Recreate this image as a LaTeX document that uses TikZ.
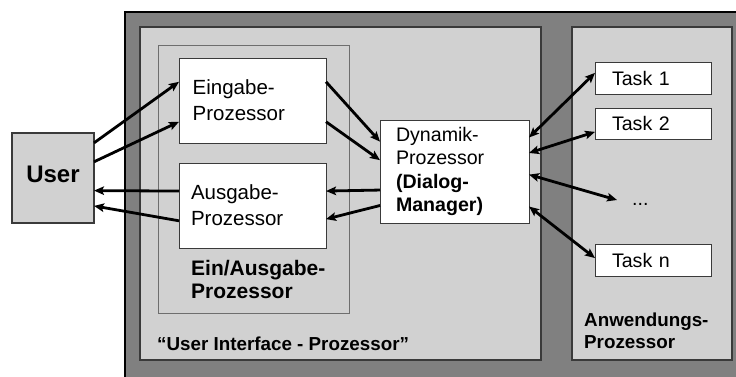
\documentclass[tikz,border=0pt]{standalone}
\usepackage{fontspec}
\setmainfont{Liberation Sans}
\usetikzlibrary{arrows.meta,calc}
\definecolor{outergray}{HTML}{808080}
\definecolor{panelgray}{HTML}{D1D1D1}
\definecolor{edgegray}{HTML}{3A3A3A}
\definecolor{thingray}{HTML}{6E6E6E}
\begin{document}
\begin{tikzpicture}[x=1pt,y=-1pt,
  frame/.style={anchor=north west, inner sep=0pt, outer sep=0pt},
  panel/.style={frame, draw=edgegray, fill=panelgray, line width=1.4pt},
  wbox/.style={anchor=north west, draw=edgegray, fill=white, line width=1pt,
    inner ysep=0pt, outer sep=0pt, align=left},
  plainfont/.style={font=\fontsize{20.5}{26}\selectfont},
  dynfont/.style={font=\fontsize{19.6}{23.3}\selectfont},
  taskfont/.style={font=\fontsize{19.6}{23}\selectfont},
  boldlabel/.style={anchor=base west, inner sep=0pt, align=left},
  flow/.style={line width=2.8pt, -{Stealth[length=10pt,width=8.5pt,inset=2pt]}},
  both/.style={line width=2.8pt, {Stealth[length=10pt,width=8.5pt,inset=2pt]}-{Stealth[length=10pt,width=8.5pt,inset=2pt]}}]

\useasboundingbox (0,0) rectangle (736,376);

% outer frame and the two processor panels
\node[frame, draw=black, fill=outergray, line width=2.2pt,
  minimum width=640pt, minimum height=390pt] (outer) at (125,12) {};
\node[panel, minimum width=401pt, minimum height=333pt] (uip) at (140,27) {};
\node[panel, minimum width=160pt, minimum height=333pt] (app) at (572,27) {};
\node[frame, draw=thingray, fill=panelgray, line width=0.9pt,
  minimum width=191pt, minimum height=268pt] (iop) at (158,45) {};

% user
\node[frame, draw=edgegray, fill=panelgray, line width=1.4pt,
  minimum width=82pt, minimum height=90pt, text depth=7pt,
  font=\fontsize{24}{28}\selectfont\bfseries] (user) at (12,133) {User};

% input / output processors
\node[wbox, plainfont, inner xsep=13.7pt, text width=119.6pt,
  minimum height=85pt] (ein) at (179,58) {Eingabe-\\Prozessor};
\node[wbox, plainfont, inner xsep=12pt, text width=123pt,
  minimum height=85pt] (aus) at (179,163) {Ausgabe-\\Prozessor};

% dialog manager
\node[wbox, dynfont, inner xsep=16pt, text width=117pt,
  minimum height=103pt] (dyn) at (380,120)
  {Dynamik-\\Prozessor\\\textbf{(Dialog-}\\\textbf{Manager)}};

% tasks
\node[wbox, taskfont, inner xsep=17pt, text width=82pt,
  minimum height=32pt] (t1) at (595,62) {Task 1};
\node[wbox, taskfont, inner xsep=17pt, text width=82pt,
  minimum height=31pt] (t2) at (595,108) {Task 2};
\node[wbox, taskfont, inner xsep=17pt, text width=82pt,
  minimum height=32pt] (tn) at (595,244) {Task n};
\node[anchor=base west, inner sep=0pt, taskfont] (dots) at (632,205) {...};
\coordinate (dotsin) at (617,200);

% panel captions (anchored at the baseline of their last line)
\node[boldlabel, font=\fontsize{21}{23.3}\selectfont\bfseries] (ioplabel)
  at (191,298.3) {Ein/Ausgabe-\\Prozessor};
\node[boldlabel, font=\fontsize{18.8}{21}\selectfont\bfseries] (uiplabel)
  at (157,350) {“User Interface - Prozessor”};
\node[boldlabel, font=\fontsize{18.8}{21.6}\selectfont\bfseries] (applabel)
  at (584,348.3) {Anwendungs-\\Prozessor};

% user <-> input/output
\draw[flow] ($(user.north east)!0.11!(user.south east)$) -- ($(ein.north west)!0.28!(ein.south west)$);
\draw[flow] ($(user.north east)!0.32!(user.south east)$) -- ($(ein.north west)!0.75!(ein.south west)$);
\draw[flow] ($(aus.north west)!0.33!(aus.south west)$) -- ($(user.north east)!0.64!(user.south east)$);
\draw[flow] ($(aus.north west)!0.68!(aus.south west)$) -- ($(user.north east)!0.81!(user.south east)$);

% input/output <-> dialog manager
\draw[flow] ($(ein.north east)!0.28!(ein.south east)$) -- ($(dyn.north west)!0.21!(dyn.south west)$);
\draw[flow] ($(ein.north east)!0.75!(ein.south east)$) -- ($(dyn.north west)!0.39!(dyn.south west)$);
\draw[flow] ($(dyn.north west)!0.68!(dyn.south west)$) -- ($(aus.north east)!0.33!(aus.south east)$);
\draw[flow] ($(dyn.north west)!0.83!(dyn.south west)$) -- ($(aus.north east)!0.66!(aus.south east)$);

% dialog manager <-> tasks
\draw[both] ($(dyn.north east)!0.17!(dyn.south east)$) -- ($(t1.north west)!0.34!(t1.south west)$);
\draw[both] ($(dyn.north east)!0.32!(dyn.south east)$) -- ($(t2.north west)!0.77!(t2.south west)$);
\draw[both] ($(dyn.north east)!0.53!(dyn.south east)$) -- (dotsin);
\draw[both] ($(dyn.north east)!0.84!(dyn.south east)$) -- ($(tn.north west)!0.44!(tn.south west)$);
\end{tikzpicture}
\end{document}
